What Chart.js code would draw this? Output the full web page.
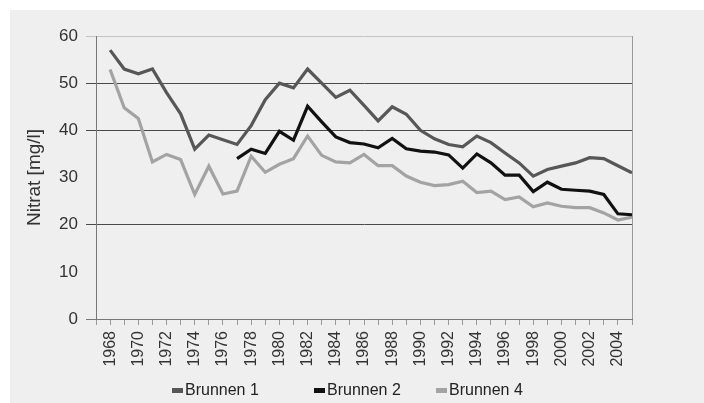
<!DOCTYPE html>
<html>
<head>
<meta charset="utf-8">
<script src="https://cdn.jsdelivr.net/npm/chart.js@4"></script>
<style>
  html, body { margin: 0; padding: 0; background: #fff; }
  #panel { position: absolute; left: 10px; top: 10px; width: 694px; height: 393px; background: #efefef; }
  #legend { position: absolute; top: 371px; left: 0; font: 16px "Liberation Sans", Arial, sans-serif; color: #222; }
  #legend .item { position: absolute; white-space: nowrap; display: flex; align-items: center; }
  #legend .box { display: inline-block; width: 11px; height: 5px; margin-right: 2px; }
</style>
</head>
<body>
<div id="panel">
  <canvas id="chart"></canvas>
  <div id="legend"></div>
</div>
<script>
// Daten
var jahre = [1968, 1969, 1970, 1971, 1972, 1973, 1974, 1975, 1976, 1977, 1978, 1979, 1980, 1981, 1982, 1983, 1984, 1985, 1986,
    1987, 1988, 1989, 1990, 1991, 1992, 1993, 1994, 1995, 1996, 1997, 1998, 1999, 2000, 2001, 2002, 2003, 2004, 2005];
var brunnen1 = [57, 53, 52, 53, 48, 43.5, 36, 39, 38, 37, 41, 46.5, 50, 49, 53, 50, 47, 48.5, 45.3,
    42, 45, 43.4, 40, 38.2, 37, 36.5, 38.8, 37.4, 35.2, 33.1, 30.3, 31.7, 32.4, 33.1, 34.2, 34, 32.5, 31];
var brunnen2 = [null, null, null, null, null, null, null, null, null, 34, 36, 35.1, 39.8, 37.9, 45.1, 41.8, 38.6, 37.4, 37.1,
    36.3, 38.3, 36.1, 35.6, 35.4, 34.8, 32, 35, 33.1, 30.5, 30.5, 27, 29, 27.5, 27.3, 27.1, 26.4, 22.3, 22.1];
var brunnen4 = [52.9, 44.8, 42.5, 33.3, 34.9, 33.8, 26.4, 32.4, 26.5, 27.1, 34.5, 31.1, 32.8, 34, 38.8, 34.7, 33.3, 33.1, 34.9,
    32.5, 32.5, 30.3, 29, 28.3, 28.5, 29.2, 26.8, 27.1, 25.3, 25.9, 23.8, 24.6, 23.9, 23.6, 23.6, 22.5, 21, 21.6];
var yTicks = [0, 10, 20, 30, 40, 50, 60];

function punkte(werte) {
    return jahre.map((j, i) => ({ x: j, y: werte[i] }));
}

var schrift = "'Liberation Sans', Arial, sans-serif";

var ctx = document.getElementById('chart').getContext('2d');
var chart = new Chart(ctx, {
    type: 'line',
    data: {
        datasets: [
            { label: 'Brunnen 1', data: punkte(brunnen1), borderColor: '#575757', backgroundColor: '#575757', borderWidth: 3.2 },
            { label: 'Brunnen 2', data: punkte(brunnen2), borderColor: '#111111', backgroundColor: '#111111', borderWidth: 3.2 },
            { label: 'Brunnen 4', data: punkte(brunnen4), borderColor: '#a3a3a3', backgroundColor: '#a3a3a3', borderWidth: 3.2 }
        ]
    },
    options: {
        responsive: true,
        maintainAspectRatio: false,
        animation: false,
        spanGaps: false,
        elements: { point: { radius: 0 }, line: { tension: 0 } },
        layout: { padding: { top: 26, right: 72, bottom: 0, left: 0 } },
        plugins: {
            legend: { display: false },
            tooltip: { enabled: false }
        },
        scales: {
            x: {
                type: 'linear',
                min: 1967,
                max: 2005,
                afterFit: s => { s.height = 84; },
                afterBuildTicks: s => { s.ticks = []; for (var j = 1967; j <= 2005; j++) s.ticks.push({ value: j }); },
                border: { color: '#777', width: 1 },
                grid: {
                    drawOnChartArea: true,
                    tickLength: 6,
                    color: c => c.tick && c.tick.value === 2005 ? '#9a9a9a' : 'rgba(0,0,0,0)',
                    tickColor: '#999'
                },
                ticks: {
                    autoSkip: false,
                    minRotation: 90,
                    maxRotation: 90,
                    padding: 6,
                    color: '#333',
                    font: { family: schrift, size: 16 },
                    callback: v => (v % 2 === 0 ? String(v) : '')
                }
            },
            y: {
                min: 0,
                max: 60,
                afterFit: s => { s.width = 86; },
                afterBuildTicks: s => { s.ticks = yTicks.map(v => ({ value: v })); },
                border: { color: '#777', width: 1 },
                grid: {
                    tickLength: 10,
                    color: c => {
                        var v = c.tick ? c.tick.value : null;
                        if (v === 20 || v === 40 || v === 50) return '#4a4a4a';
                        if (v === 60) return '#c4c4c4';
                        if (v === 0) return '#777';
                        return 'rgba(0,0,0,0)';
                    }
                },
                ticks: {
                    padding: 8,
                    color: '#333',
                    font: { family: schrift, size: 17 }
                },
                title: {
                    display: true,
                    text: 'Nitrat [mg/l]',
                    color: '#333',
                    font: { family: schrift, size: 19 },
                    padding: { top: 13, bottom: 0 }
                }
            }
        }
    }
});

// Legende als HTML, Positionen wie im Original
var legendePos = [162, 304, 426];
var legende = document.getElementById('legend');
chart.data.datasets.forEach((ds, i) => {
    var item = document.createElement('span');
    item.className = 'item';
    item.style.left = legendePos[i] + 'px';
    var box = document.createElement('span');
    box.className = 'box';
    box.style.background = ds.borderColor;
    item.appendChild(box);
    item.appendChild(document.createTextNode(ds.label));
    legende.appendChild(item);
});
</script>
</body>
</html>
